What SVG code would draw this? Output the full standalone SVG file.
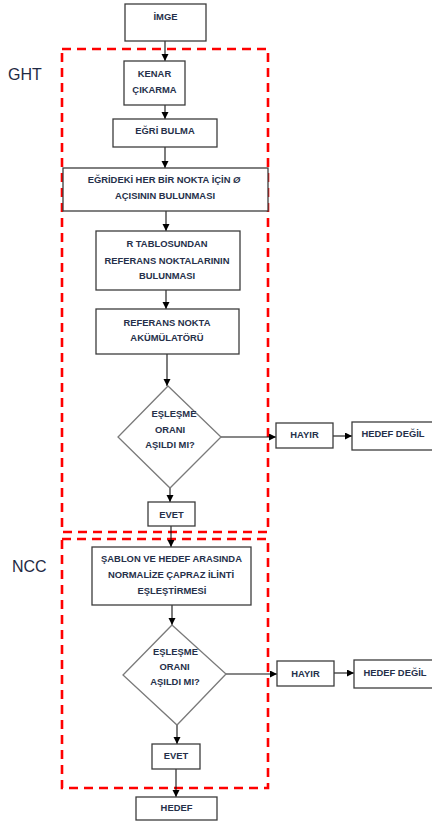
<svg xmlns="http://www.w3.org/2000/svg" width="432" height="823" viewBox="0 0 432 823">
  <style>
    .box { fill: #ffffff; stroke: #3c3c3c; stroke-width: 1.3; }
    .dia { fill: #ffffff; stroke: #7a7a7a; stroke-width: 1.3; }
    .t { font-family: "Liberation Sans", Arial, sans-serif; font-size: 9.4px; font-weight: bold; fill: #26304a; text-anchor: middle; }
    .lbl { font-family: "Liberation Sans", Arial, sans-serif; font-size: 16px; fill: #1f2a44; }
    .frame { fill: none; stroke: #ff0000; stroke-width: 2.6; stroke-dasharray: 9 6; }
    .edge { fill: none; stroke: #111111; stroke-width: 1.1; marker-end: url(#arrow); }
  </style>
  <defs>
    <marker id="arrow" markerUnits="userSpaceOnUse" markerWidth="8" markerHeight="8" refX="7" refY="3.5" orient="auto">
      <path d="M0,0 L7,3.5 L0,7 z" fill="#000000"/>
    </marker>
  </defs>

  <rect width="432" height="823" fill="#ffffff"/>

  <!-- stage frames -->
  <g id="ght-frame">
    <rect class="frame" x="62" y="49" width="206" height="483"/>
    <text class="lbl" x="8" y="80">GHT</text>
  </g>
  <g id="ncc-frame">
    <rect class="frame" x="62" y="539" width="206" height="249"/>
    <text class="lbl" x="12" y="572">NCC</text>
  </g>

  <!-- connectors -->
  <g id="connectors">
    <line class="edge" x1="165" y1="41" x2="165" y2="61"/>
    <line class="edge" x1="165" y1="105" x2="165" y2="119"/>
    <line class="edge" x1="165" y1="147" x2="165" y2="168"/>
    <line class="edge" x1="166" y1="211" x2="166" y2="231"/>
    <line class="edge" x1="166" y1="290" x2="166" y2="309"/>
    <line class="edge" x1="167" y1="354" x2="167" y2="386"/>
    <line class="edge" x1="221" y1="437" x2="276" y2="437"/>
    <line class="edge" x1="333" y1="436" x2="352" y2="436"/>
    <line class="edge" x1="170" y1="488" x2="170" y2="502"/>
    <line class="edge" x1="171" y1="526" x2="171" y2="547"/>
    <line class="edge" x1="172" y1="605" x2="172" y2="625"/>
    <line class="edge" x1="226" y1="674" x2="277" y2="674"/>
    <line class="edge" x1="334" y1="673" x2="354" y2="673"/>
    <line class="edge" x1="177" y1="725" x2="177" y2="744"/>
    <line class="edge" x1="176" y1="769" x2="176" y2="797"/>
  </g>

  <!-- GHT stage -->
  <g id="imge">
    <rect class="box" x="125" y="4" width="81" height="37"/>
    <text class="t" x="165.5" y="20">İMGE</text>
  </g>
  <g id="kenar">
    <rect class="box" x="124" y="61" width="61" height="44"/>
    <text class="t" x="154.5" y="77">KENAR</text>
    <text class="t" x="154.5" y="93">ÇIKARMA</text>
  </g>
  <g id="egri-bulma">
    <rect class="box" x="113" y="119" width="104" height="28"/>
    <text class="t" x="165" y="134">EĞRİ BULMA</text>
  </g>
  <g id="aci">
    <rect class="box" x="63" y="168" width="205" height="43"/>
    <text class="t" x="164" y="183">EĞRİDEKİ HER BİR NOKTA İÇİN <tspan font-style="italic">Ø</tspan></text>
    <text class="t" x="165" y="199">AÇISININ BULUNMASI</text>
  </g>
  <g id="r-tablo">
    <rect class="box" x="96" y="231" width="144" height="59"/>
    <text class="t" x="167" y="247">R TABLOSUNDAN</text>
    <text class="t" x="167" y="264">REFERANS NOKTALARININ</text>
    <text class="t" x="167" y="279">BULUNMASI</text>
  </g>
  <g id="akumulator">
    <rect class="box" x="96" y="309" width="143" height="45"/>
    <text class="t" x="167" y="326">REFERANS NOKTA</text>
    <text class="t" x="167" y="341">AKÜMÜLATÖRÜ</text>
  </g>
  <g id="karar-ght">
    <polygon class="dia" points="168,386 221,437 170,488 118,437"/>
    <text class="t" x="174" y="417">EŞLEŞME</text>
    <text class="t" x="170" y="433">ORANI</text>
    <text class="t" x="170" y="448">AŞILDI MI?</text>
  </g>
  <g id="hayir-ght">
    <rect class="box" x="276" y="423" width="57" height="25"/>
    <text class="t" x="304.5" y="438">HAYIR</text>
  </g>
  <g id="hedef-degil-ght">
    <rect class="box" x="352" y="422" width="82" height="28"/>
    <text class="t" x="393" y="437">HEDEF DEĞİL</text>
  </g>
  <g id="evet-ght">
    <rect class="box" x="148" y="502" width="47" height="24"/>
    <text class="t" x="171.5" y="518">EVET</text>
  </g>

  <!-- NCC stage -->
  <g id="ncc-eslestirme">
    <rect class="box" x="92" y="547" width="159" height="58"/>
    <text class="t" x="171.5" y="562">ŞABLON VE HEDEF ARASINDA</text>
    <text class="t" x="171" y="578">NORMALİZE ÇAPRAZ İLİNTİ</text>
    <text class="t" x="172" y="594">EŞLEŞTİRMESİ</text>
  </g>
  <g id="karar-ncc">
    <polygon class="dia" points="172,625 226,674 177,725 123,675"/>
    <text class="t" x="175.5" y="655">EŞLEŞME</text>
    <text class="t" x="174.5" y="670">ORANI</text>
    <text class="t" x="175" y="685">AŞILDI MI?</text>
  </g>
  <g id="hayir-ncc">
    <rect class="box" x="277" y="661" width="57" height="25"/>
    <text class="t" x="305.5" y="677">HAYIR</text>
  </g>
  <g id="hedef-degil-ncc">
    <rect class="box" x="354" y="660" width="82" height="28"/>
    <text class="t" x="395" y="676">HEDEF DEĞİL</text>
  </g>
  <g id="evet-ncc">
    <rect class="box" x="152" y="744" width="48" height="25"/>
    <text class="t" x="176" y="759">EVET</text>
  </g>
  <g id="hedef">
    <rect class="box" x="136" y="797" width="81" height="23"/>
    <text class="t" x="176.5" y="811">HEDEF</text>
  </g>
</svg>
